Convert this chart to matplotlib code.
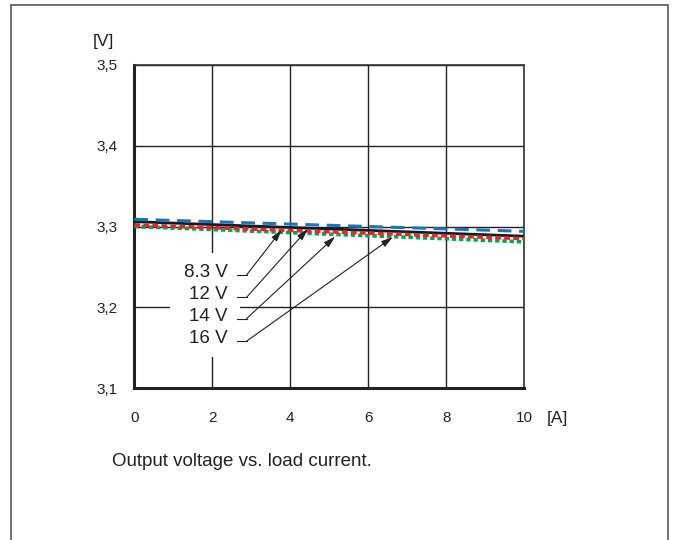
import matplotlib
matplotlib.use("Agg")
import matplotlib.pyplot as plt
from matplotlib.patches import Rectangle

plt.rcParams['font.family'] = ['Liberation Sans', 'DejaVu Sans']

# Data
current = [0, 10]
v_83 = [3.306, 3.288]
v_12 = [3.302, 3.285]
v_14 = [3.309, 3.294]
v_16 = [3.300, 3.281]
x_ticks = [0, 2, 4, 6, 8, 10]
y_ticks = [3.1, 3.2, 3.3, 3.4, 3.5]
y_ticklabels = ["3,1", "3,2", "3,3", "3,4", "3,5"]
labels = ["8.3 V", "12 V", "14 V", "16 V"]
label_y = [3.243, 3.2153, 3.189, 3.161]
tip_x = [3.78, 4.45, 5.15, 6.63]
tip_y = [3.296, 3.297, 3.2875, 3.287]
caption = "Output voltage vs. load current."

fig = plt.figure(figsize=(6.75, 5.4), dpi=100)
W, H = 675, 540
ax = fig.add_axes([134.3 / W, 1 - 388 / H, (524.3 - 134.3) / W, (388 - 65) / H])

ax.set_xlim(0, 10)
ax.set_ylim(3.1, 3.5)
ax.set_xticks(x_ticks)
ax.set_yticks(y_ticks)
ax.set_yticklabels(y_ticklabels)
ax.tick_params(length=0, labelsize=11, colors='#222222')
ax.tick_params(axis='y', pad=12)
ax.tick_params(axis='x', pad=16.5)
ax.grid(True, color='#222222', lw=1.0)
ax.set_axisbelow(True)
for s in ['left', 'bottom']:
    ax.spines[s].set_linewidth(2.2)
    ax.spines[s].set_color('#222222')
for s in ['top', 'right']:
    ax.spines[s].set_linewidth(1.2)
    ax.spines[s].set_color('#333333')

# white box behind labels
ax.add_patch(Rectangle((0.915, 3.139), 2.71 - 0.915, 3.267 - 3.139,
                       facecolor='white', edgecolor='none', zorder=1.5))

ax.plot(current, v_83, color='#1a1a1a', lw=2.0, zorder=3)
ax.plot(current, v_16, color='#00a651', lw=2.6, dashes=(1.2, 0.8), zorder=3)
ax.plot(current, v_12, color='#e8262a', lw=2.6, dashes=(1.6, 0.9), zorder=4)
ax.plot(current, v_14, color='#1b75bb', lw=2.2, dashes=(4.5, 2.5), zorder=5)

seg_x0, seg_x1 = 2.63, 2.88
for lab, ly, tx, ty in zip(labels, label_y, tip_x, tip_y):
    ax.text(2.40, ly, lab, ha='right', va='center', fontsize=13.5, color='#222222', zorder=6)
    ax.plot([seg_x0, seg_x1], [ly - 0.003, ly - 0.003], color='#222222', lw=0.8, zorder=6)
    ax.annotate('', xy=(tx, ty), xytext=(seg_x1, ly - 0.003),
                arrowprops=dict(arrowstyle='-|>,head_length=0.7,head_width=0.2',
                                color='#222222', lw=0.8, shrinkA=0, shrinkB=0),
                zorder=6)

fig.text(103 / W, 1 - 42 / H, "[V]", ha='center', va='center', fontsize=12.5, color='#222222')
fig.text(557 / W, 1 - 418 / H, "[A]", ha='center', va='center', fontsize=12.5, color='#222222')
fig.text(112 / W, 1 - 462 / H, caption, ha='left', va='center', fontsize=13.5, color='#222222')

# outer frame
fig.patches.append(Rectangle((11 / W, -0.05), (667.5 - 11) / W, 1.05 - 4.5 / H,
                             transform=fig.transFigure, fill=False,
                             edgecolor='#666666', lw=1.3))

fig.savefig("out.png", dpi=100)
